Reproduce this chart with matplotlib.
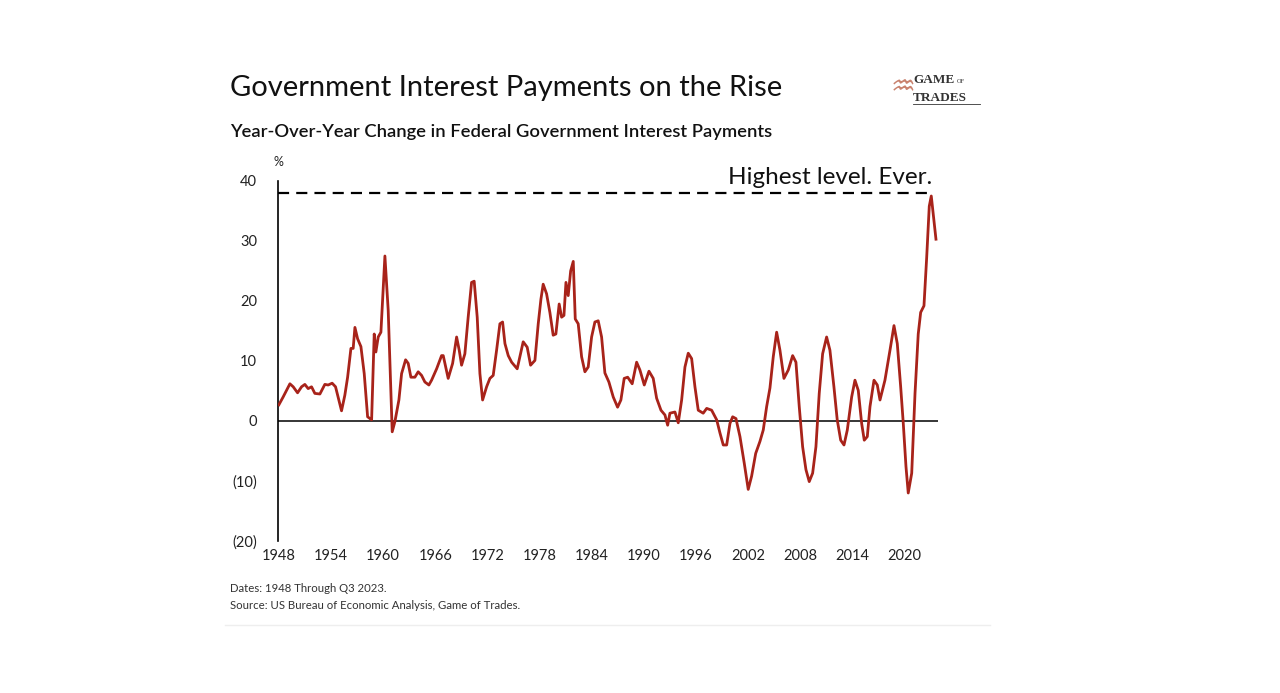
import matplotlib
matplotlib.use("Agg")
import matplotlib.pyplot as plt
import numpy as np

# year-over-year change in federal interest payments, %
years = [
    1948.00, 1948.49, 1949.27, 1949.65, 1950.15, 1950.61, 1950.99, 1951.37, 1951.76, 1952.14,
    1952.72, 1953.29, 1953.67, 1954.13, 1954.52, 1954.90, 1955.21, 1955.59, 1955.91, 1956.29,
    1956.55, 1956.75, 1957.06, 1957.44, 1957.82, 1958.21, 1958.67, 1958.97, 1959.16, 1959.43,
    1959.74, 1960.20, 1960.58, 1961.04, 1961.35, 1961.81, 1962.12, 1962.58, 1962.88, 1963.19,
    1963.65, 1964.03, 1964.42, 1964.80, 1965.26, 1965.57, 1966.15, 1966.72, 1966.91, 1967.48,
    1967.99, 1968.45, 1968.75, 1969.02, 1969.40, 1969.78, 1970.17, 1970.47, 1970.82, 1971.13,
    1971.44, 1971.90, 1972.28, 1972.66, 1973.05, 1973.43, 1973.74, 1974.01, 1974.39, 1974.78,
    1975.42, 1975.73, 1976.11, 1976.57, 1976.96, 1977.46, 1977.84, 1978.15, 1978.41, 1978.80,
    1979.18, 1979.56, 1979.87, 1980.25, 1980.53, 1980.80, 1981.03, 1981.29, 1981.57, 1981.87,
    1982.10, 1982.44, 1982.83, 1983.21, 1983.59, 1983.98, 1984.36, 1984.74, 1985.13, 1985.51,
    1985.97, 1986.47, 1986.97, 1987.35, 1987.73, 1988.13, 1988.65, 1989.16, 1989.54, 1990.04,
    1990.58, 1991.07, 1991.46, 1991.96, 1992.42, 1992.73, 1992.99, 1993.57, 1993.95, 1994.34,
    1994.72, 1995.10, 1995.49, 1995.87, 1996.25, 1996.82, 1997.22, 1997.79, 1998.37, 1998.75,
    1999.13, 1999.52, 1999.90, 2000.21, 2000.59, 2001.05, 2001.54, 2002.00, 2002.39, 2002.86,
    2003.35, 2003.73, 2004.12, 2004.50, 2004.88, 2005.27, 2005.65, 2006.11, 2006.61, 2007.11,
    2007.49, 2007.87, 2008.26, 2008.64, 2009.02, 2009.41, 2009.79, 2010.17, 2010.56, 2011.02,
    2011.40, 2011.86, 2012.24, 2012.64, 2013.02, 2013.40, 2013.90, 2014.28, 2014.66, 2015.05,
    2015.35, 2015.70, 2016.01, 2016.47, 2016.85, 2017.16, 2017.73, 2018.31, 2018.77, 2019.15,
    2019.54, 2019.84, 2020.15, 2020.41, 2020.81, 2021.19, 2021.56, 2021.84, 2022.22, 2022.53,
    2022.83, 2023.06, 2023.29, 2023.60,
]
yoy_change = [
    2.7, 4.0, 6.2, 5.7, 4.7, 5.7, 6.1, 5.4, 5.7, 4.6,
    4.5, 6.1, 6.0, 6.3, 5.7, 3.5, 1.7, 4.3, 7.3, 12.1,
    12.1, 15.6, 13.7, 12.4, 7.9, 0.7, 0.2, 14.5, 11.5, 14.0,
    14.8, 27.5, 18.4, -1.8, -0.1, 3.5, 7.9, 10.2, 9.6, 7.3,
    7.3, 8.2, 7.6, 6.5, 6.0, 6.8, 8.7, 10.9, 10.9, 7.1,
    9.6, 14.0, 11.8, 9.3, 11.2, 17.3, 23.1, 23.3, 17.3, 7.9,
    3.5, 5.7, 7.1, 7.6, 11.8, 16.2, 16.5, 12.9, 10.9, 9.8,
    8.7, 10.7, 13.2, 12.3, 9.3, 10.1, 16.2, 20.3, 22.8, 21.2,
    18.1, 14.3, 14.5, 19.5, 17.3, 17.6, 23.1, 20.9, 25.0, 26.6,
    17.0, 16.2, 10.7, 8.2, 9.0, 14.0, 16.5, 16.7, 14.0, 8.0,
    6.5, 4.0, 2.3, 3.5, 7.1, 7.3, 6.2, 9.8, 8.5, 6.0,
    8.3, 7.1, 3.8, 1.8, 1.0, -0.7, 1.3, 1.5, -0.3, 3.5,
    9.0, 11.3, 10.4, 5.7, 1.8, 1.3, 2.1, 1.8, 0.2, -2.0,
    -4.0, -4.0, -0.4, 0.7, 0.4, -2.6, -7.0, -11.4, -9.2, -5.4,
    -3.4, -1.5, 2.4, 5.5, 10.7, 14.8, 11.8, 7.1, 8.5, 10.9,
    9.8, 2.4, -4.3, -8.1, -10.1, -8.7, -4.3, 4.6, 11.2, 14.0,
    11.8, 5.7, 0.2, -3.2, -4.0, -1.5, 4.0, 6.8, 5.1, -0.4,
    -3.2, -2.6, 2.4, 6.8, 6.0, 3.5, 6.8, 11.8, 15.9, 12.9,
    5.7, -0.4, -7.6, -12.0, -8.7, 4.6, 14.5, 18.1, 19.2, 27.2,
    35.8, 37.5, 34.4, 30.3,
]
highest_level = 38.0

x_ticks = list(range(1948, 2021, 6))
y_ticks = [40, 30, 20, 10, 0, -10, -20]
y_labels = ["40", "30", "20", "10", "0", "(10)", "(20)"]

plt.rcParams['font.family'] = ['Lato', 'DejaVu Sans']

fig = plt.figure(figsize=(12.8, 6.93), dpi=100)
fig.patch.set_facecolor("white")
ax = fig.add_axes([278 / 1280, 1 - 541 / 693, 660 / 1280, 360 / 693])

x_end = 1948 + (938 - 279) / 8.69
ax.set_xlim(1947.9, x_end)
ax.set_ylim(-20, 40)

ax.plot(years, yoy_change, color="#a8231a", lw=2.0, solid_joinstyle="round", zorder=3)
ax.axhline(0, color="black", lw=1.1, zorder=2)
ax.plot([1947.9, years[-3]], [highest_level, highest_level], color="black", lw=1.6,
        dashes=(5, 3.2), zorder=2)
ax.text(years[-3] + 0.1, highest_level + 0.9, "Highest level. Ever.", ha="right", va="bottom",
        fontsize=17.5, color="#111111")

for s in ["top", "right", "bottom"]:
    ax.spines[s].set_visible(False)
ax.spines["left"].set_linewidth(1.2)
ax.spines["left"].set_color("black")

ax.set_xticks(x_ticks)
ax.set_xticklabels([str(y) for y in x_ticks], fontsize=10.5, color="#222222")
ax.set_yticks(y_ticks)
ax.set_yticklabels(y_labels, fontsize=10.5, color="#222222")
ax.tick_params(axis="both", length=0)
ax.tick_params(axis="x", pad=6)
ax.tick_params(axis="y", pad=15)
ax.text(0, 1.035, "%", transform=ax.transAxes, ha="center", va="bottom", fontsize=9, color="#222222")

fig.text(230 / 1280, 1 - 96 / 693, "Government Interest Payments on the Rise", fontsize=21,
         color="#111111", ha="left", va="baseline")
fig.text(230 / 1280, 1 - 137 / 693, "Year-Over-Year Change in Federal Government Interest Payments",
         fontsize=13.2, color="#111111", ha="left", va="baseline", weight="semibold")

fig.text(230 / 1280, 1 - 592 / 693, "Dates: 1948 Through Q3 2023.", fontsize=8.2, color="#333333",
         ha="left", va="baseline")
fig.text(230 / 1280, 1 - 609 / 693, "Source: US Bureau of Economic Analysis, Game of Trades.",
         fontsize=8.2, color="#333333", ha="left", va="baseline")
fig.add_artist(plt.Line2D([225 / 1280, 990 / 1280], [1 - 625 / 693, 1 - 625 / 693],
                          color="#eeeeee", lw=1))

# logo
fig.text(913 / 1280, 1 - 83 / 693, "GAME", fontsize=9.5, family="Liberation Serif", weight="bold",
         color="#333333", ha="left", va="baseline")
fig.text(957 / 1280, 1 - 83 / 693, "OF", fontsize=4.5, family="Liberation Serif",
         color="#333333", ha="left", va="baseline")
fig.text(913 / 1280, 1 - 101 / 693, "TRADES", fontsize=9.5, family="Liberation Serif", weight="bold",
         color="#333333", ha="left", va="baseline")
fig.add_artist(plt.Line2D([913 / 1280, 980 / 1280], [1 - 104 / 693, 1 - 104 / 693],
                          color="#333333", lw=0.6))
fig.text(903 / 1280, 1 - 87 / 693, "\u2652", fontsize=20, color="#c9826e", ha="center", va="center",
         family=["DejaVu Sans"])

fig.savefig("out.png", dpi=100, facecolor="white")
